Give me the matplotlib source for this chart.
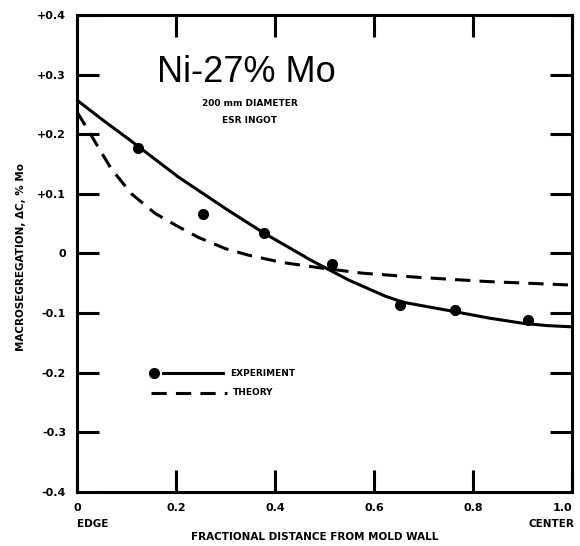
import matplotlib
matplotlib.use("Agg")
from matplotlib import pyplot as plt

# experiment points (fractional distance, macrosegregation % Mo)
exp_x = [0.123, 0.255, 0.378, 0.516, 0.653, 0.763, 0.911]
exp_y = [0.177, 0.067, 0.034, -0.017, -0.087, -0.094, -0.111]

# solid fit through experiment
fit_x = [0.0, 0.05, 0.107, 0.205, 0.306, 0.378, 0.474, 0.55, 0.624, 0.66, 0.7, 0.76, 0.83, 0.9, 0.95, 1.0]
fit_y = [0.257, 0.225, 0.19, 0.128, 0.072, 0.034, -0.012, -0.045, -0.072, -0.082, -0.088, -0.097, -0.108, -0.117, -0.121, -0.123]

# dashed theory curve
theory_x = [0.0, 0.02, 0.045, 0.069, 0.11, 0.158, 0.2, 0.245, 0.3, 0.347, 0.414, 0.49, 0.576, 0.69, 0.827, 1.0]
theory_y = [0.237, 0.21, 0.175, 0.142, 0.10, 0.067, 0.047, 0.027, 0.008, -0.003, -0.015, -0.024, -0.033, -0.04, -0.047, -0.053]

x_ticks = [0, 0.2, 0.4, 0.6, 0.8, 1.0]
x_tick_labels = ["0", "0.2", "0.4", "0.6", "0.8", "1.0"]
y_ticks = [-0.4, -0.3, -0.2, -0.1, 0, 0.1, 0.2, 0.3, 0.4]
y_tick_labels = ["-0.4", "-0.3", "-0.2", "-0.1", "0", "+0.1", "+0.2", "+0.3", "+0.4"]

LW = 2.2
bold = dict(family="DejaVu Sans", weight="bold")

fig = plt.figure(figsize=(5.8, 5.46), dpi=100)
ax = fig.add_axes([0.133, 0.099, 0.853, 0.8735])

ax.plot(fit_x, fit_y, color="black", lw=LW, solid_capstyle="round", solid_joinstyle="round")
ax.plot(theory_x, theory_y, color="black", lw=LW, linestyle=(0, (5, 3)))
ax.plot(exp_x, exp_y, "o", color="black", markersize=7)

ax.set_xlim(0, 1.0)
ax.set_ylim(-0.4, 0.4)
ax.set_xticks(x_ticks)
ax.set_xticklabels(x_tick_labels, fontsize=8, **bold)
ax.get_xticklabels()[-1].set_ha("right")
ax.set_yticks(y_ticks)
ax.set_yticklabels(y_tick_labels, fontsize=8, **bold)
ax.tick_params(direction="in", length=16, width=LW, top=True, right=True, pad=8)
for s in ax.spines.values():
    s.set_linewidth(LW)

ax.text(0.0, -0.068, "EDGE", transform=ax.transAxes, ha="left", va="center", fontsize=7.5, **bold)
ax.text(1.005, -0.068, "CENTER", transform=ax.transAxes, ha="right", va="center", fontsize=7.5, **bold)
ax.text(0.48, -0.094, "FRACTIONAL DISTANCE FROM MOLD WALL", transform=ax.transAxes,
        ha="center", va="center", fontsize=7.5, **bold)
fig.text(0.036, 0.53, "MACROSEGREGATION, ΔC, % Mo", rotation=90, ha="center", va="center",
         fontsize=7.5, **bold)

ax.text(0.343, 0.88, "Ni-27% Mo", transform=ax.transAxes, ha="center", va="center",
        fontsize=26, family="Liberation Sans")
ax.text(0.35, 0.815, "200 mm DIAMETER", transform=ax.transAxes, ha="center", va="center", fontsize=6.5, **bold)
ax.text(0.348, 0.778, "ESR INGOT", transform=ax.transAxes, ha="center", va="center", fontsize=6.5, **bold)

# hand drawn legend
ax.plot([0.174, 0.295], [0.249, 0.249], color="black", lw=LW, transform=ax.transAxes)
ax.plot([0.156], [0.249], "o", color="black", markersize=7, transform=ax.transAxes)
ax.text(0.309, 0.249, "EXPERIMENT", transform=ax.transAxes, va="center", fontsize=6.5, **bold)
ax.plot([0.149, 0.303], [0.2075, 0.2075], color="black", lw=LW, linestyle=(0, (5, 3)),
        transform=ax.transAxes)
ax.text(0.315, 0.2075, "THEORY", transform=ax.transAxes, va="center", fontsize=6.5, **bold)

fig.savefig("out.png", dpi=100)
